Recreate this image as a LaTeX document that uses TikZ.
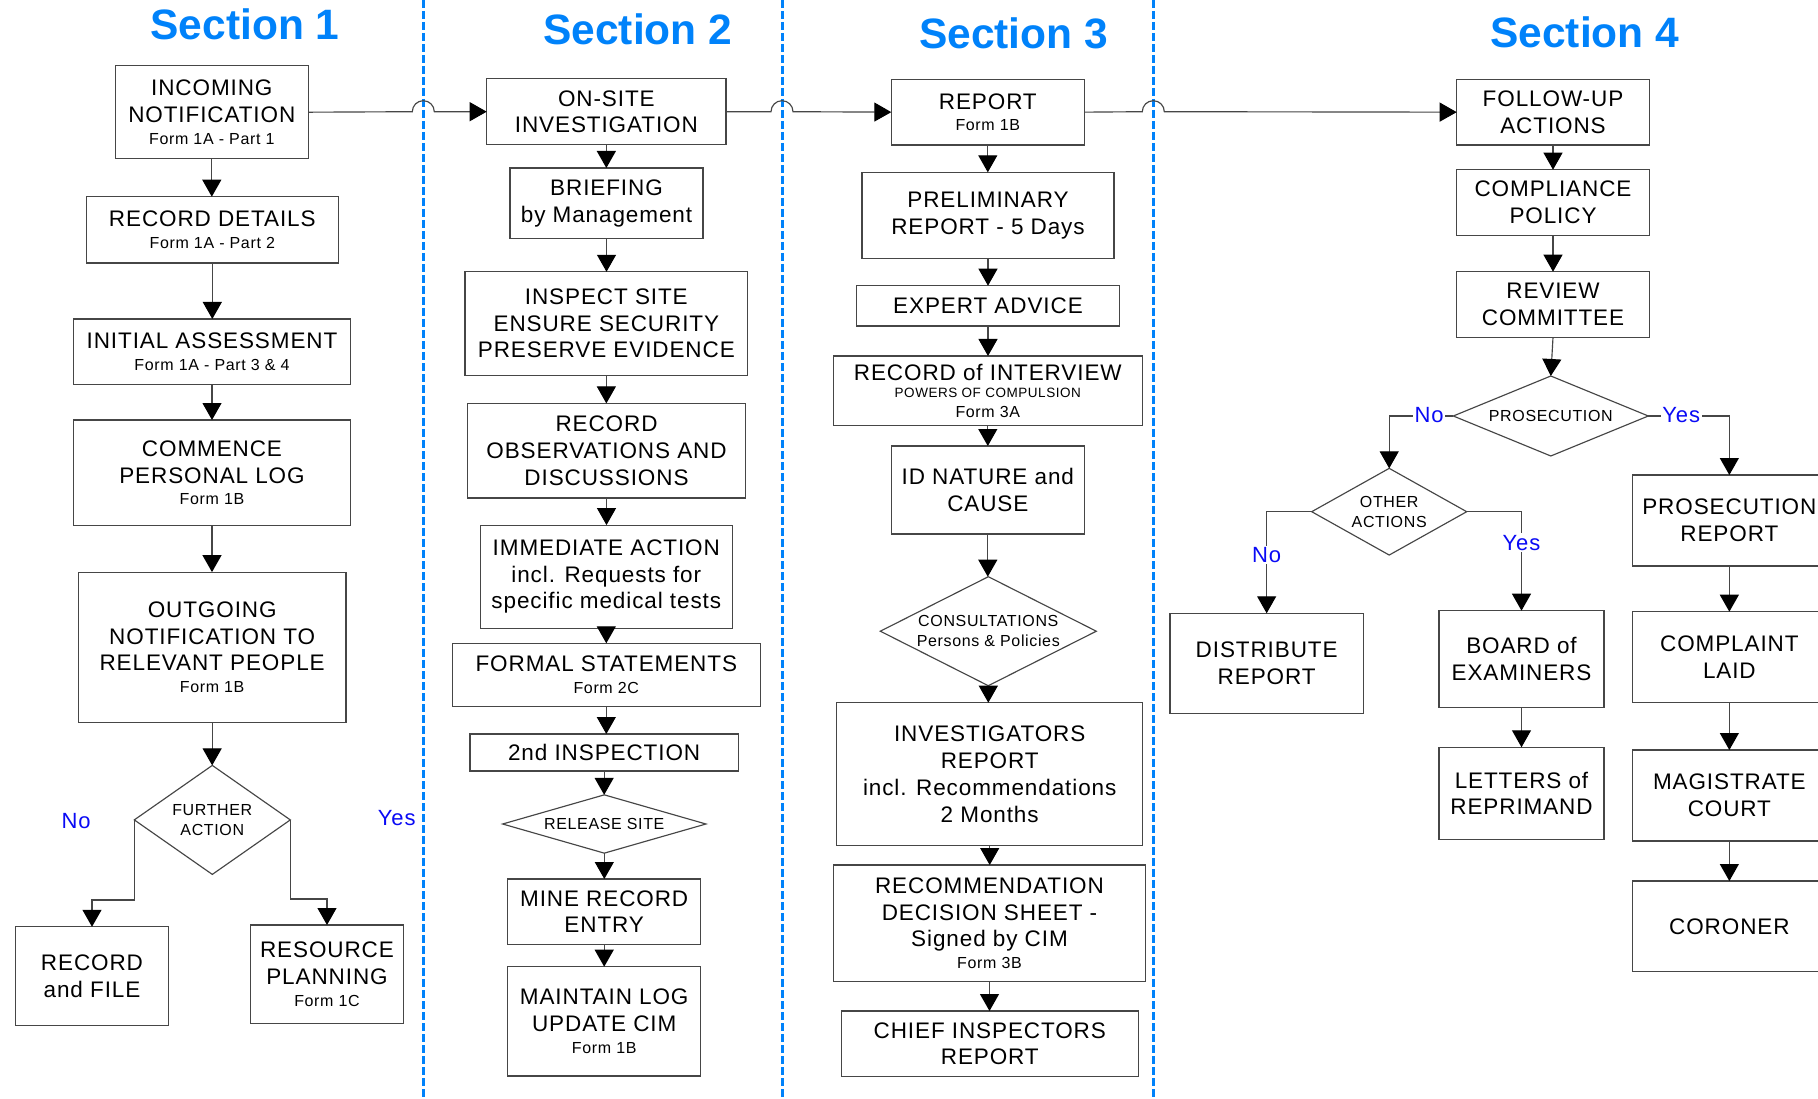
\documentclass[tikz,border=0pt]{standalone}
\usepackage{fontspec}
\setmainfont{Liberation Sans}[LetterSpace=4]
\newfontfamily\ttlfont{Liberation Sans}
\usetikzlibrary{shapes.geometric,arrows.meta}
\definecolor{secblue}{RGB}{0,130,250}
\definecolor{lblblue}{RGB}{10,10,245}
\definecolor{boxline}{RGB}{70,70,70}
\newcommand{\sm}{\fontsize{16}{26.7}\selectfont}
\newcommand{\xs}{\fontsize{13.5}{26.7}\selectfont}
\newcommand{\bx}[6]{%
  \node[flowbox, minimum width={(#4)-(#2)}, minimum height={(#5)-(#3)}] (#1) at ({((#2)+(#4))/2},{((#3)+(#5))/2}) {#6};}
\tikzset{
  flowbox/.style={draw=boxline, line width=1.15pt, fill=white, inner sep=0pt, outer sep=0pt, align=center,
    font=\fontsize{22.5}{26.7}\selectfont, text=black},
  decision/.style={diamond, draw=boxline, line width=1.15pt, fill=white, inner sep=0pt, outer sep=0pt, align=center,
    font=\fontsize{16}{19.7}\selectfont, text=black},
  arr/.style={draw=boxline, line width=1.15pt, -{Triangle[length=17pt,width=19pt,black]}},
  lbl/.style={text=lblblue, font=\fontsize{22}{26}\selectfont, inner sep=1.5pt, anchor=base},
  sectitle/.style={text=secblue, font=\ttlfont\bfseries\fontsize{42.5}{50}\selectfont, inner sep=0pt, anchor=base},
  sepline/.style={draw=secblue, line width=3pt, dash pattern=on 8pt off 3pt},
}
\begin{document}
\begin{tikzpicture}[x=1pt,y=-1pt]
\useasboundingbox (0,0) rectangle (1818,1099);
\clip (0,0) rectangle (1818,1099);
\fill[white] (0,0) rectangle (1818,1099);

% separators
\draw[sepline] (423.3,0) -- (423.3,1099);
\draw[sepline] (782,0) -- (782,1099);
\draw[sepline] (1153.3,0) -- (1153.3,1099);
\coordinate (j1) at (423.3,111.7);
\coordinate (j2) at (782,111.7);
\coordinate (j3) at (1153.3,111.7);

% titles
\node[sectitle] (t1) at (245,40) {Section 1};
\node[sectitle] (t2) at (637.8,44.5) {Section 2};
\node[sectitle] (t3) at (1013.7,49) {Section 3};
\node[sectitle] (t4) at (1584.7,47.7) {Section 4};

% ---------- Section 1
\bx{inc}{115.3}{65.7}{308.3}{158.7}{INCOMING\\NOTIFICATION\\[-5pt]{\sm Form 1A - Part 1}}
\bx{rec}{86.3}{196.7}{338.3}{263}{RECORD DETAILS\\[-5pt]{\sm Form 1A - Part 2}}
\bx{ini}{73.7}{319}{350.3}{384.7}{INITIAL ASSESSMENT\\[-5pt]{\sm Form 1A - Part 3 \& 4}}
\bx{com}{73.7}{420}{350.3}{525.7}{COMMENCE\\PERSONAL LOG\\[-5pt]{\sm Form 1B}}
\bx{out}{78.3}{572.1}{346}{722.5}{OUTGOING\\NOTIFICATION TO\\RELEVANT PEOPLE\\[-5pt]{\sm Form 1B}}
\node[decision, minimum width=156pt, minimum height=109pt, aspect=1.43] (fa) at (212.3,819.9) {FURTHER\\ACTION};
\bx{rf}{15.7}{926.8}{168.3}{1025.6}{RECORD\\and FILE}
\bx{rp}{250.7}{925}{403.3}{1023.8}{RESOURCE\\PLANNING\\[-5pt]{\sm Form 1C}}

\draw[arr] (inc.south) -- (inc.south |- rec.north);
\draw[arr] (rec.south) -- (rec.south |- ini.north);
\draw[arr] (ini.south) -- (ini.south |- com.north);
\draw[arr] (com.south) -- (com.south |- out.north);
\draw[arr] (out.south) -- (out.south |- fa.north);
\draw[arr] (fa.west) -- ++(0,80.1) -| (rf.north);
\draw[arr] (fa.east) -- ++(0,79.1) -| (rp.north);
\node[lbl] (no1) at (76.2,828.8) {No};
\node[lbl] (yes1) at (396.7,825.9) {Yes};

% ---------- Section 2
\bx{ons}{486.7}{78.9}{726}{144.5}{ON-SITE\\INVESTIGATION}
\bx{bri}{510}{168}{703}{238.9}{BRIEFING\\by Management}
\bx{ins}{465}{271.8}{747.7}{375.3}{INSPECT SITE\\ENSURE SECURITY\\PRESERVE EVIDENCE}
\bx{obs}{467.3}{403.4}{745.7}{498}{RECORD\\OBSERVATIONS AND\\DISCUSSIONS}
\bx{imm}{480.3}{525.1}{732.3}{628.3}{IMMEDIATE ACTION\\incl. Requests for\\specific medical tests}
\bx{frm}{452.3}{643.3}{760.3}{706.7}{FORMAL STATEMENTS\\[-5pt]{\sm Form 2C}}
\bx{insb}{470}{734}{738.3}{771}{2nd INSPECTION}
\node[decision, minimum width=203.3pt, minimum height=58.3pt, aspect=3.49] (rs) at (604.3,824) {RELEASE SITE};
\bx{mine}{507.7}{879}{700.7}{944.3}{MINE RECORD\\ENTRY}
\bx{mnt}{507.7}{966.7}{700.7}{1076}{MAINTAIN LOG\\UPDATE CIM\\[-5pt]{\sm Form 1B}}

\draw[arr] (ons.south) -- (ons.south |- bri.north);
\draw[arr] (bri.south) -- (bri.south |- ins.north);
\draw[arr] (ins.south) -- (ins.south |- obs.north);
\draw[arr] (obs.south) -- (obs.south |- imm.north);
\draw[arr] (imm.south) -- (imm.south |- frm.north);
\draw[arr] (frm.south) -- (frm.south |- insb.north);
\draw[arr] (insb.south) -- (insb.south |- rs.north);
\draw[arr] (rs.south) -- (rs.south |- mine.north);
\draw[arr] (mine.south) -- (mine.south |- mnt.north);

% ---------- Section 3
\bx{rep}{891.3}{79.3}{1084.3}{145}{REPORT\\[-5pt]{\sm Form 1B}}
\bx{pre}{862}{172.3}{1114}{258.3}{PRELIMINARY\\REPORT - 5 Days}
\bx{exp}{856.3}{285.7}{1119.7}{326}{EXPERT ADVICE}
\bx{rint}{833.3}{356}{1142.3}{425.7}{\raisebox{-2pt}{RECORD of INTERVIEW}\\[-7.4pt]{\xs POWERS OF COMPULSION}\\[-7pt]{\sm Form 3A}}
\bx{idn}{891.3}{446}{1084.3}{534}{ID NATURE and\\CAUSE}
\node[decision, minimum width=216pt, minimum height=109pt, aspect=1.98] (cons) at (988.3,631.2) {CONSULTATIONS\\Persons \& Policies};
\bx{inv}{836.7}{702.7}{1142.7}{845.7}{INVESTIGATORS\\REPORT\\incl. Recommendations\\2 Months}
\bx{recd}{833.3}{865}{1145.7}{981.7}{RECOMMENDATION\\DECISION SHEET -\\Signed by CIM\\[-5pt]{\sm Form 3B}}
\bx{chf}{841.3}{1011}{1138.3}{1076.7}{CHIEF INSPECTORS\\REPORT}

\draw[arr] (rep.south) -- (rep.south |- pre.north);
\draw[arr] (pre.south) -- (pre.south |- exp.north);
\draw[arr] (exp.south) -- (exp.south |- rint.north);
\draw[arr] (rint.south) -- (rint.south |- idn.north);
\draw[arr] (idn.south) -- (idn.south |- cons.north);
\draw[arr] (cons.south) -- (cons.south |- inv.north);
\draw[arr] (inv.south) -- (inv.south |- recd.north);
\draw[arr] (recd.south) -- (recd.south |- chf.north);

% ---------- Section 4
\bx{fol}{1456.7}{79.3}{1649.3}{145}{FOLLOW-UP\\ACTIONS}
\bx{cmp}{1456.7}{169.7}{1649.3}{235.3}{COMPLIANCE\\POLICY}
\bx{rev}{1456.7}{271.7}{1649.3}{337.3}{REVIEW\\COMMITTEE}
\node[decision, minimum width=195pt, minimum height=80pt, aspect=2.44] (pros) at (1550.8,416) {PROSECUTION};
\node[decision, minimum width=155pt, minimum height=86.7pt, aspect=1.79] (oth) at (1389.2,511.7) {OTHER\\ACTIONS};
\bx{dis}{1170}{613.3}{1363.3}{713.3}{DISTRIBUTE\\REPORT}
\bx{brd}{1439}{610.7}{1604}{707.3}{BOARD of\\EXAMINERS}
\bx{let}{1439}{747.3}{1604}{839.3}{LETTERS of\\REPRIMAND}
\bx{prr}{1632.7}{475}{1826}{566}{PROSECUTION\\REPORT}
\bx{cpl}{1632.7}{611.7}{1826}{702.7}{COMPLAINT\\LAID}
\bx{mag}{1632.7}{750}{1826}{841}{MAGISTRATE\\COURT}
\bx{cor}{1632.7}{881}{1826}{971.7}{CORONER}

\draw[arr] (fol.south) -- (fol.south |- cmp.north);
\draw[arr] (cmp.south) -- (cmp.south |- rev.north);
\draw[arr] (rev.south) -- (pros.north);
\draw[arr] (pros.west) -| (oth.north);
\draw[arr] (pros.east) -| (prr.north);
\draw[arr] (oth.west) -| (dis.north);
\draw[arr] (oth.east) -| (brd.north);
\draw[arr] (brd.south) -- (brd.south |- let.north);
\draw[arr] (prr.south) -- (prr.south |- cpl.north);
\draw[arr] (cpl.south) -- (cpl.south |- mag.north);
\draw[arr] (mag.south) -- (mag.south |- cor.north);
\node[lbl, fill=white] (no2) at (1429.2,422.3) {No};
\node[lbl, fill=white] (yes2) at (1681.2,422.3) {Yes};
\node[lbl, fill=white] (no3) at (1266.7,562.7) {No};
\node[lbl, fill=white] (yes3) at (1521.5,550) {Yes};

% ---------- cross-section connectors with line jumps
\draw[arr] (inc.east) -- ([xshift=-11pt]j1) arc[start angle=180, end angle=360, radius=11] -- (ons.west);
\draw[arr] (ons.east) -- ([xshift=-11pt]j2) arc[start angle=180, end angle=360, radius=11] -- (rep.west);
\draw[arr] (rep.east) -- ([xshift=-11pt]j3) arc[start angle=180, end angle=360, radius=11] -- (fol.west);
\end{tikzpicture}
\end{document}
